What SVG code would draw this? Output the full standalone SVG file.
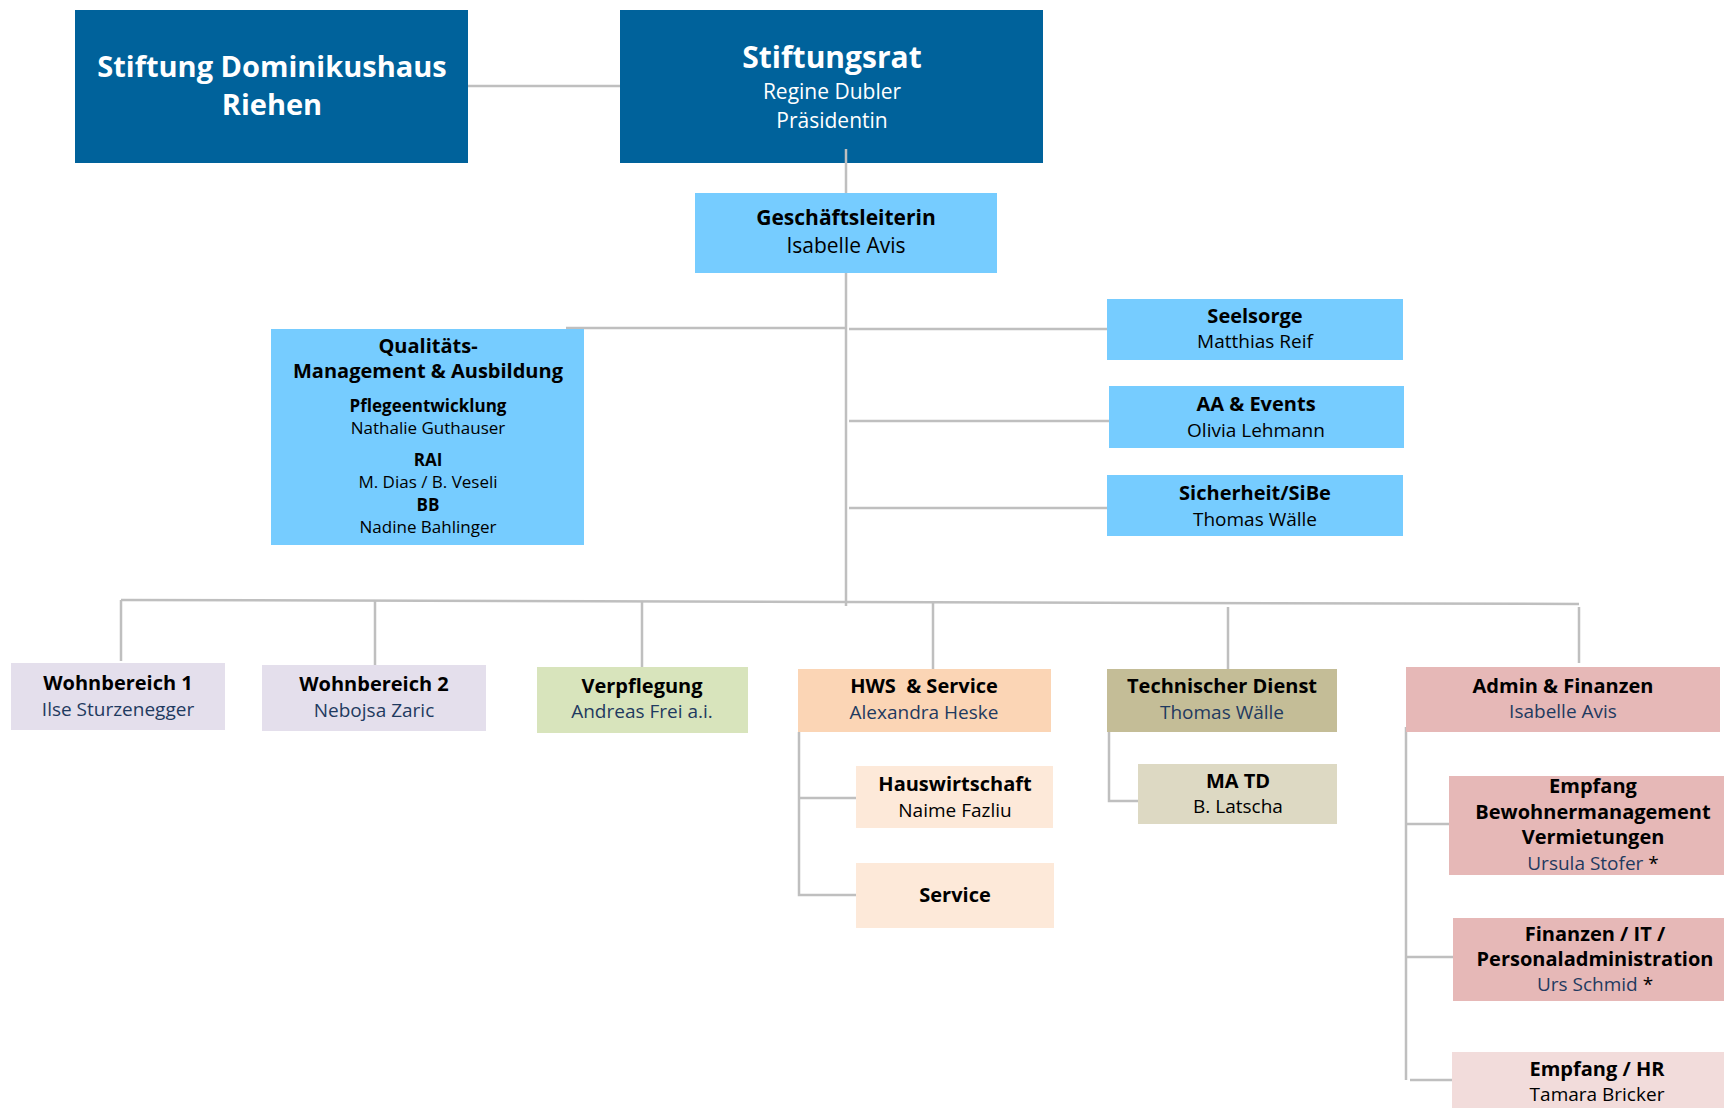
<svg xmlns="http://www.w3.org/2000/svg" width="1724" height="1108" viewBox="0 0 1724 1108">
<style>
text{font-family:"Open Sans","Noto Sans","Liberation Sans",sans-serif;text-anchor:middle}
.b{font-weight:bold}
.w{fill:#ffffff}
.k{fill:#000000}
.n{fill:#1f3a60}
.t20{font-size:20px}
.t19{font-size:19px}
.t17{font-size:17px}
.c{stroke:#bfbfbf;stroke-width:2.5;fill:none}
.dark{fill:#00629b}
.lb{fill:#76ccff}
.lav{fill:#e4dfec}
.grn{fill:#d8e4bc}
.pch{fill:#fbd5b5}
.pch2{fill:#fde9d9}
.olv{fill:#c4bd97}
.olv2{fill:#ddd9c3}
.rose{fill:#e6b8b7}
.rose2{fill:#f2dcdb}
</style>
<rect x="0" y="0" width="1724" height="1108" fill="#ffffff"/>
<g id="connectors">
<line class="c" x1="468" y1="86" x2="620" y2="86"/>
<line class="c" x1="846" y1="150" x2="846" y2="193"/>
<line class="c" x1="846" y1="273" x2="846" y2="606"/>
<line class="c" x1="566" y1="328" x2="846" y2="328"/>
<line class="c" x1="849" y1="329" x2="1107" y2="329"/>
<line class="c" x1="849" y1="421" x2="1109" y2="421"/>
<line class="c" x1="849" y1="508" x2="1107" y2="508"/>
<line class="c" x1="121" y1="600" x2="1579" y2="604"/>
<line class="c" x1="121" y1="600" x2="121" y2="661"/>
<line class="c" x1="375" y1="601" x2="375" y2="665"/>
<line class="c" x1="642" y1="602" x2="642" y2="667"/>
<line class="c" x1="933" y1="603" x2="933" y2="669"/>
<line class="c" x1="1228" y1="607" x2="1228" y2="669"/>
<line class="c" x1="1579" y1="607" x2="1579" y2="663"/>
<polyline class="c" points="799,732 799,895 856,895"/>
<line class="c" x1="799" y1="798" x2="856" y2="798"/>
<polyline class="c" points="1109,732 1109,801 1138,801"/>
<line class="c" x1="1406" y1="727" x2="1406" y2="1080"/>
<line class="c" x1="1406" y1="824" x2="1453" y2="824"/>
<line class="c" x1="1406" y1="957" x2="1453" y2="957"/>
<line class="c" x1="1410" y1="1080" x2="1461" y2="1080"/>
</g>
<g id="stiftung">
<rect class="dark" x="75" y="10" width="393" height="153"/>
<text class="b w" x="272" y="77" font-size="29">Stiftung Dominikushaus</text>
<text class="b w" x="272" y="115" font-size="29">Riehen</text>
</g>
<g id="stiftungsrat">
<rect class="dark" x="620" y="10" width="423" height="153"/>
<line class="c" x1="846" y1="149" x2="846" y2="163"/>
<text class="b w" x="832" y="68" font-size="30">Stiftungsrat</text>
<text class="w" x="832" y="99" font-size="21">Regine Dubler</text>
<text class="w" x="832" y="128" font-size="21">Präsidentin</text>
</g>
<g id="geschaeftsleiterin">
<rect class="lb" x="695" y="193" width="302" height="80"/>
<text class="b k" x="846" y="225" font-size="21">Geschäftsleiterin</text>
<text class="k" x="846" y="253" font-size="21">Isabelle Avis</text>
</g>
<g id="qualitaet">
<rect class="lb" x="271" y="329" width="313" height="216"/>
<text class="b k t20" x="428" y="353">Qualitäts-</text>
<text class="b k t20" x="428" y="378">Management &amp; Ausbildung</text>
<text class="b k t17" x="428" y="412">Pflegeentwicklung</text>
<text class="k t17" x="428" y="434">Nathalie Guthauser</text>
<text class="b k t17" x="428" y="466">RAI</text>
<text class="k t17" x="428" y="488">M. Dias / B. Veseli</text>
<text class="b k t17" x="428" y="511">BB</text>
<text class="k t17" x="428" y="533">Nadine Bahlinger</text>
</g>
<g id="seelsorge">
<rect class="lb" x="1107" y="299" width="296" height="61"/>
<text class="b k t20" x="1255" y="323">Seelsorge</text>
<text class="k t19" x="1255" y="348">Matthias Reif</text>
</g>
<g id="aa-events">
<rect class="lb" x="1109" y="386" width="295" height="62"/>
<text class="b k t20" x="1256" y="411">AA &amp; Events</text>
<text class="k t19" x="1256" y="437">Olivia Lehmann</text>
</g>
<g id="sicherheit">
<rect class="lb" x="1107" y="475" width="296" height="61"/>
<text class="b k t20" x="1255" y="500">Sicherheit/SiBe</text>
<text class="k t19" x="1255" y="526">Thomas Wälle</text>
</g>
<g id="wohnbereich1">
<rect class="lav" x="11" y="663" width="214" height="67"/>
<text class="b k t20" x="118" y="690">Wohnbereich 1</text>
<text class="n t19" x="118" y="716">Ilse Sturzenegger</text>
</g>
<g id="wohnbereich2">
<rect class="lav" x="262" y="665" width="224" height="66"/>
<text class="b k t20" x="374" y="691">Wohnbereich 2</text>
<text class="n t19" x="374" y="717">Nebojsa Zaric</text>
</g>
<g id="verpflegung">
<rect class="grn" x="537" y="667" width="211" height="66"/>
<text class="b k t20" x="642" y="693">Verpflegung</text>
<text class="n t19" x="642" y="718">Andreas Frei a.i.</text>
</g>
<g id="hws">
<rect class="pch" x="798" y="669" width="253" height="63"/>
<text class="b k t20" x="924" y="693" xml:space="preserve">HWS  &amp; Service</text>
<text class="n t19" x="924" y="719">Alexandra Heske</text>
</g>
<g id="hauswirtschaft">
<rect class="pch2" x="856" y="766" width="197" height="62"/>
<text class="b k t20" x="955" y="791">Hauswirtschaft</text>
<text class="k t19" x="955" y="817">Naime Fazliu</text>
</g>
<g id="service">
<rect class="pch2" x="856" y="863" width="198" height="65"/>
<text class="b k t20" x="955" y="902">Service</text>
</g>
<g id="technischer-dienst">
<rect class="olv" x="1107" y="669" width="230" height="63"/>
<text class="b k t20" x="1222" y="693">Technischer Dienst</text>
<text class="n t19" x="1222" y="719">Thomas Wälle</text>
</g>
<g id="ma-td">
<rect class="olv2" x="1138" y="764" width="199" height="60"/>
<text class="b k t20" x="1238" y="788">MA TD</text>
<text class="k t19" x="1238" y="813">B. Latscha</text>
</g>
<g id="admin">
<rect class="rose" x="1406" y="667" width="314" height="65"/>
<text class="b k t20" x="1563" y="693">Admin &amp; Finanzen</text>
<text class="n t19" x="1563" y="718">Isabelle Avis</text>
</g>
<g id="empfang">
<rect class="rose" x="1449" y="776" width="275" height="99"/>
<text class="b k t20" x="1593" y="793">Empfang</text>
<text class="b k t20" x="1593" y="819">Bewohnermanagement</text>
<text class="b k t20" x="1593" y="844">Vermietungen</text>
<text class="n t19" x="1593" y="870">Ursula Stofer <tspan class="k">*</tspan></text>
</g>
<g id="finanzen">
<rect class="rose" x="1453" y="918" width="271" height="83"/>
<text class="b k t20" x="1595" y="941">Finanzen / IT /</text>
<text class="b k t20" x="1595" y="966">Personaladministration</text>
<text class="n t19" x="1595" y="991">Urs Schmid <tspan class="k">*</tspan></text>
</g>
<g id="empfang-hr">
<rect class="rose2" x="1452" y="1052" width="272" height="56"/>
<text class="b k t20" x="1597" y="1076">Empfang / HR</text>
<text class="k t19" x="1597" y="1101">Tamara Bricker</text>
</g>
</svg>
